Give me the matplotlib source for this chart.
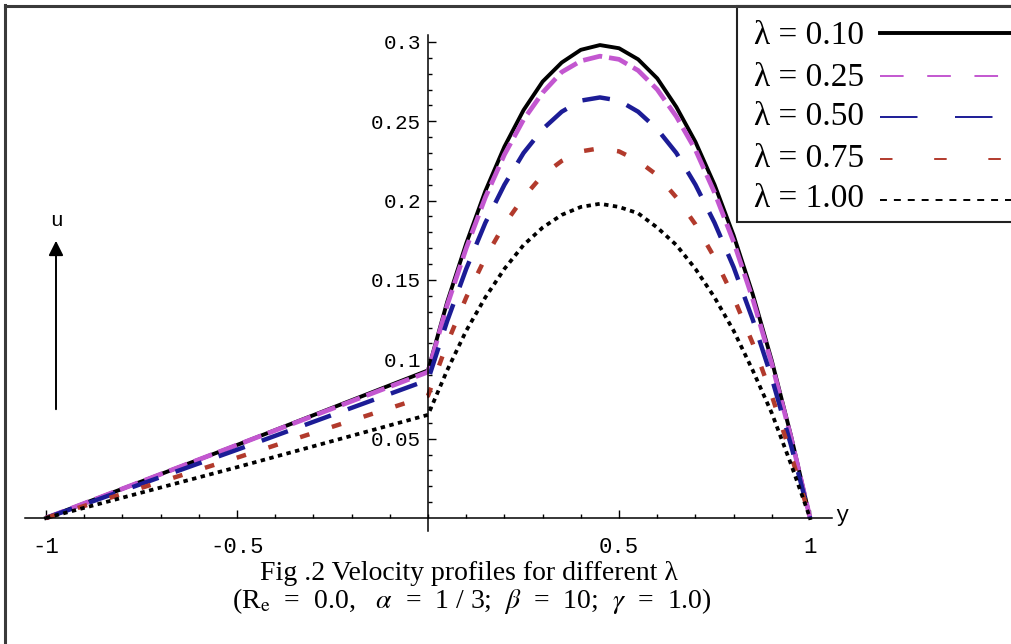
import matplotlib.pyplot as plt
from matplotlib.patches import Rectangle
from matplotlib.ticker import FixedLocator

plt.rcParams['lines.scale_dashes'] = False
plt.rcParams['mathtext.fontset'] = 'stix'

# lambda values shown in the legend
lam_labels = ['0.10', '0.25', '0.50', '0.75', '1.00']

# left part of channel (linear) and right part (curved)
y_left = [-1.0, -0.5, 0.0]
y_right = [0.0, 0.05, 0.1, 0.15, 0.2, 0.25, 0.3, 0.35, 0.4, 0.45, 0.5,
           0.55, 0.6, 0.65, 0.7, 0.75, 0.8, 0.85, 0.9, 0.95, 1.0]

u_left_010 = [0.0, 0.046, 0.093]
u_left_025 = [0.0, 0.046, 0.092]
u_left_050 = [0.0, 0.043, 0.087]
u_left_075 = [0.0, 0.038, 0.077]
u_left_100 = [0.0, 0.032, 0.065]

u_right_010 = [0.093, 0.136, 0.173, 0.206, 0.234, 0.257, 0.275, 0.287, 0.295, 0.298, 0.296,
               0.289, 0.277, 0.259, 0.237, 0.210, 0.178, 0.141, 0.099, 0.052, 0.0]
u_right_025 = [0.092, 0.134, 0.170, 0.202, 0.229, 0.251, 0.268, 0.281, 0.288, 0.291, 0.289,
               0.282, 0.270, 0.253, 0.232, 0.205, 0.174, 0.138, 0.097, 0.051, 0.0]
u_right_050 = [0.087, 0.124, 0.157, 0.186, 0.210, 0.230, 0.245, 0.256, 0.263, 0.265, 0.263,
               0.256, 0.245, 0.230, 0.210, 0.186, 0.158, 0.125, 0.088, 0.046, 0.0]
u_right_075 = [0.077, 0.110, 0.139, 0.164, 0.185, 0.202, 0.216, 0.225, 0.231, 0.233, 0.231,
               0.225, 0.216, 0.202, 0.185, 0.164, 0.139, 0.110, 0.077, 0.040, 0.0]
u_right_100 = [0.065, 0.093, 0.118, 0.139, 0.157, 0.172, 0.183, 0.191, 0.196, 0.198, 0.196,
               0.192, 0.183, 0.172, 0.157, 0.139, 0.118, 0.093, 0.066, 0.034, 0.0]

u_left = [u_left_010, u_left_025, u_left_050, u_left_075, u_left_100]
u_right = [u_right_010, u_right_025, u_right_050, u_right_075, u_right_100]

xtick_vals = [-1, -0.5, 0.5, 1]
xtick_labels = ['-1', '-0.5', '0.5', '1']
ytick_vals = [0.05, 0.1, 0.15, 0.2, 0.25, 0.3]
ytick_labels = ['0.05', '0.1', '0.15', '0.2', '0.25', '0.3']

# styles
colors = ['black', '#c357d0', '#1c1c96', '#b23a2c', 'black']
widths = [2.8, 3.4, 3.2, 3.2, 2.7]
dashes = [None, (14, 5), (20, 13), (7, 17), (3.2, 3.2)]
leg_widths = [2.8, 1.4, 1.4, 1.4, 1.4]
leg_dashes = [None, (17, 17), (27, 27), (9, 30), (5, 5)]
leg_text_y = [36, 78, 117, 159, 199]
leg_line_y = [33, 76, 117, 159, 200]

mono = 'Liberation Mono'
serif = 'Liberation Serif'

fig = plt.figure(figsize=(10.11, 6.44), dpi=100)
ax = fig.add_axes([0, 0, 1, 1])
ax.set_xlim(-1.1204, 1.526)
ax.set_ylim(-0.0794, 0.3264)
ax.patch.set_visible(False)

for s in ['top', 'right']:
    ax.spines[s].set_visible(False)
ax.spines['left'].set_position(('data', 0))
ax.spines['bottom'].set_position(('data', 0))
ax.spines['left'].set_bounds(-0.008, 0.3043)
ax.spines['bottom'].set_bounds(-1.055, 1.058)
for s in ['left', 'bottom']:
    ax.spines[s].set_linewidth(1.1)

ax.set_xticks(xtick_vals)
ax.set_xticklabels(xtick_labels, fontfamily=mono, fontsize=16)
ax.set_yticks(ytick_vals)
ax.set_yticklabels(ytick_labels, fontfamily=mono, fontsize=15)
ax.xaxis.set_minor_locator(FixedLocator([round(-1 + 0.1 * i, 1) for i in range(21)]))
ax.yaxis.set_minor_locator(FixedLocator([i / 100 for i in range(1, 31)]))
ax.tick_params(which='major', direction='in', length=6, width=1.0)
ax.tick_params(which='minor', direction='in', length=2.8, width=1.0)
ax.tick_params(axis='x', which='major', pad=14)
ax.tick_params(axis='y', which='major', pad=5)

for i in range(len(lam_labels)):
    line, = ax.plot(y_left + y_right, u_left[i] + u_right[i], color=colors[i],
                    lw=widths[i], solid_joinstyle='round')
    if dashes[i] is not None:
        line.set_dashes(dashes[i])

# overlay in pixel coordinates for frame, legend, labels
ov = fig.add_axes([0, 0, 1, 1])
ov.set_xlim(0, 1011)
ov.set_ylim(644, 0)
ov.axis('off')

ov.plot([5, 5], [5, 644], color='#3a3a3a', lw=2.2)
ov.plot([5, 1011], [6, 6], color='#3a3a3a', lw=2.2)

ov.add_patch(Rectangle((737, 6), 300, 216, facecolor='white', edgecolor='#222222', lw=1.5))
for i, lab in enumerate(lam_labels):
    ov.text(754, leg_text_y[i], 'λ = ' + lab, fontfamily=serif, fontsize=24,
            ha='left', va='center')
    ln, = ov.plot([880, 1011], [leg_line_y[i], leg_line_y[i]], color=colors[i], lw=leg_widths[i])
    if leg_dashes[i] is not None:
        ln.set_dashes(leg_dashes[i])

ov.annotate('', xy=(56, 238), xytext=(56, 412),
            arrowprops=dict(arrowstyle='-|>', lw=1.4, color='black', mutation_scale=22))
ov.text(56, 220, 'u', fontfamily=mono, fontsize=15, ha='center', va='center')
ov.text(842, 516, 'y', fontfamily=mono, fontsize=16, ha='center', va='center')

ov.text(469, 574, 'Fig .2 Velocity profiles for different λ', fontfamily=serif,
        fontsize=20, ha='center', va='center')
ov.text(472, 601, r'(R$_\mathrm{e}$  =  0.0,   $\alpha$  =  1 / 3;  $\beta$  =  10;  $\gamma$  =  1.0)',
        fontfamily=serif, fontsize=20, ha='center', va='center')

fig.savefig('out.png', dpi=100)
